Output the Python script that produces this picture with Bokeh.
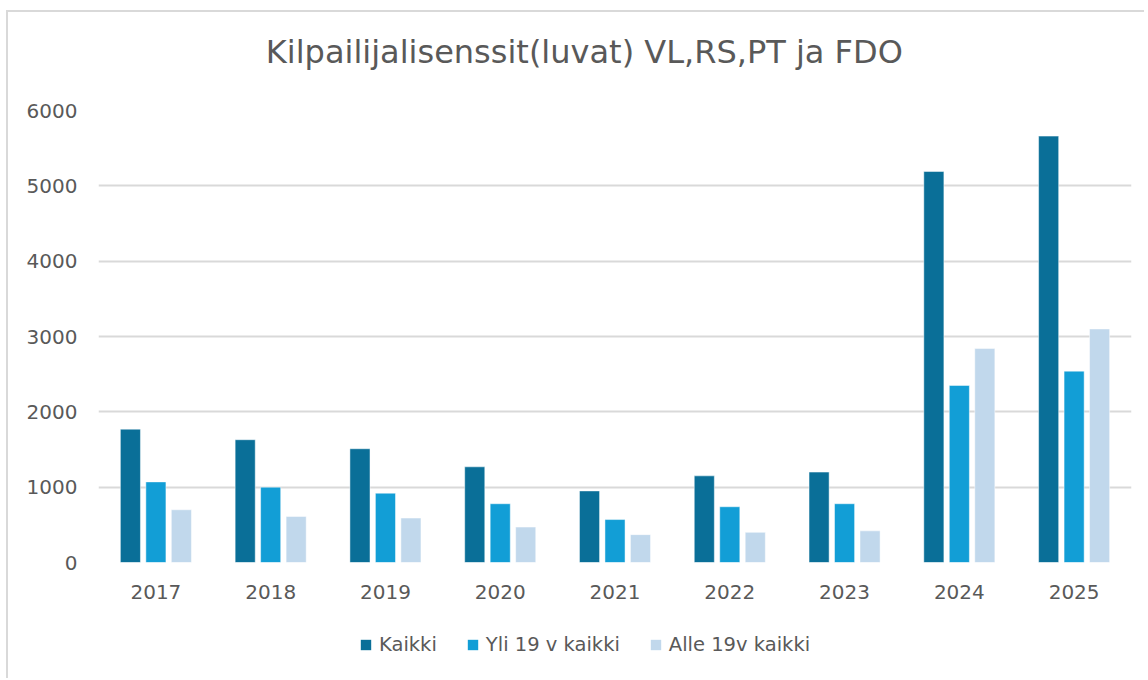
from bokeh.plotting import figure
from bokeh.layouts import column
from bokeh.models import (FactorRange, Range1d, ColumnDataSource, Legend, LegendItem,
                          FixedTicker, Label)
from bokeh.transform import dodge
from bokeh.embed import file_html
from bokeh.resources import INLINE

years = ["2017", "2018", "2019", "2020", "2021", "2022", "2023", "2024", "2025"]
kaikki = [1770, 1630, 1510, 1270, 950, 1150, 1200, 5190, 5660]
yli19 = [1070, 1000, 920, 780, 570, 740, 780, 2350, 2540]
alle19 = [700, 610, 590, 470, 370, 400, 420, 2840, 3100]
series_names = ["Kaikki", "Yli 19 v kaikki", "Alle 19v kaikki"]
colors = ["#0A6F98", "#129ED6", "#C1D8EC"]
title_text = "Kilpailijalisenssit(luvat)  VL,RS,PT ja FDO"

FONT = "DejaVu Sans"
GREY = "#595959"
W = 1136


def bare(fig):
    fig.outline_line_color = None
    fig.background_fill_color = "white"
    fig.border_fill_color = "white"
    fig.xgrid.grid_line_color = None
    fig.ygrid.grid_line_color = None


# ---- title strip ----
tfig = figure(width=W, height=86, x_range=Range1d(0, W), y_range=Range1d(0, 86),
              x_axis_type=None, y_axis_type=None, output_backend="svg", toolbar_location=None,
              min_border=0)
bare(tfig)
tfig.add_layout(Label(x=184, y=47, text=title_text, text_font=FONT, text_font_size="32px",
                      text_color=GREY, text_align="left", text_baseline="middle"))

# ---- main chart ----
src = ColumnDataSource(dict(year=years, kaikki=kaikki, yli=yli19, alle=alle19))

p = figure(x_range=FactorRange(*years), y_range=Range1d(0, 6000),
           width=W, height=520, output_backend="svg", toolbar_location=None,
           min_border_left=90, min_border_right=13, min_border_top=12, min_border_bottom=56)
p.x_range.range_padding = 0
bare(p)

offs = [-0.222, 0.0, 0.222]
cols = ["kaikki", "yli", "alle"]
for off, col, c in zip(offs, cols, colors):
    p.vbar(x=dodge("year", off, range=p.x_range), top=col, width=0.175, source=src,
           fill_color=c, line_color="white", line_width=0.8, line_alpha=0.6)

p.ygrid.grid_line_color = "#d9d9d9"
p.ygrid.grid_line_width = 2
p.yaxis.ticker = FixedTicker(ticks=[0, 1000, 2000, 3000, 4000, 5000, 6000])

for ax in (p.xaxis[0], p.yaxis[0]):
    ax.axis_line_color = None
    ax.major_tick_line_color = None
    ax.minor_tick_line_color = None
    ax.major_label_text_font = FONT
    ax.major_label_text_font_size = "20px"
    ax.major_label_text_color = GREY
p.yaxis.major_label_standoff = 15
p.xaxis.major_label_standoff = 16

# ---- legend strip ----
lfig = figure(width=W, height=60, x_range=Range1d(0, W), y_range=Range1d(0, 60),
              x_axis_type=None, y_axis_type=None, output_backend="svg", toolbar_location=None,
              min_border=0)
bare(lfig)
lsrc = ColumnDataSource(dict(x=[-500], top=[-500]))
lrs = [lfig.vbar(x="x", top="top", width=1, source=lsrc, fill_color=c, line_color=None)
       for c in colors]
legend = Legend(items=[LegendItem(label=n, renderers=[r]) for n, r in zip(series_names, lrs)],
                orientation="horizontal", location=(261, 22))
legend.label_text_font = FONT
legend.label_text_font_size = "19.5px"
legend.label_text_color = GREY
legend.glyph_width = 13
legend.glyph_height = 13
legend.spacing = 29
legend.label_standoff = 7
legend.border_line_color = None
legend.background_fill_alpha = 0
lfig.add_layout(legend, "center")

layout = column(tfig, p, lfig, spacing=0, margin=(10, 0, 0, 6))
layout.styles = {"border-left": "2px solid #d9d9d9", "border-top": "2px solid #d9d9d9"}

open("out.html", "w").write(file_html(layout, INLINE))
